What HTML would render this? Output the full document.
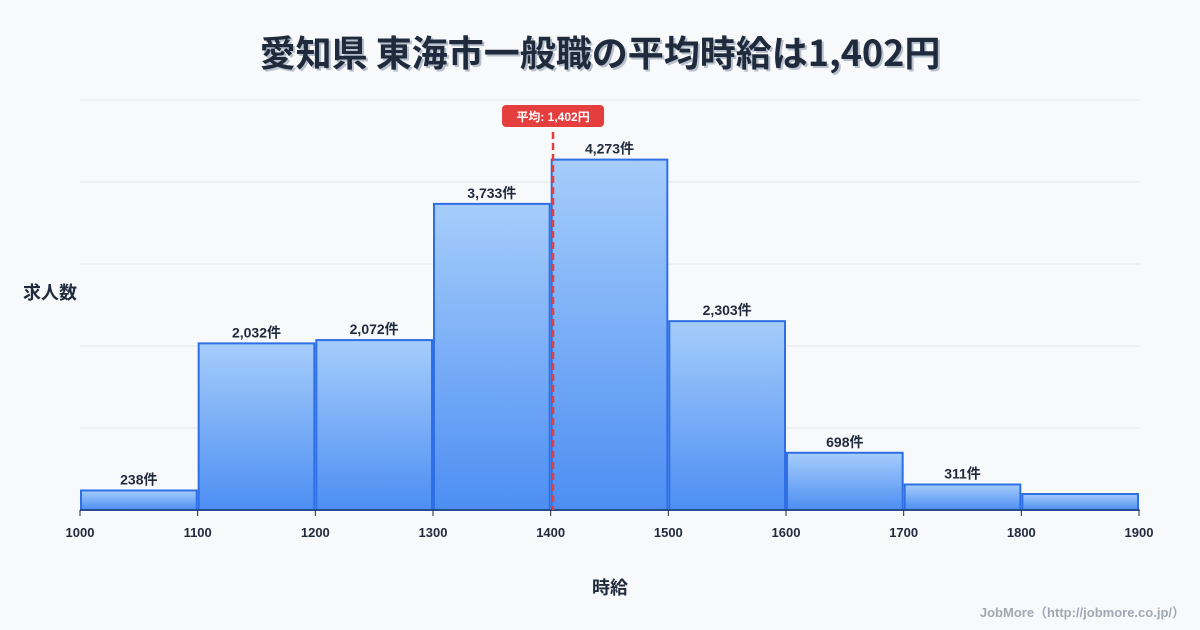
<!DOCTYPE html>
<html><head><meta charset="utf-8"><style>
body{margin:0;background:#f8f9fb;font-family:"Liberation Sans","Noto Sans CJK JP",sans-serif;}
#wrap{position:relative;width:1200px;height:630px;overflow:hidden;}
</style></head><body>
<div id="wrap">
<svg id="svg" width="1200" height="630" xmlns="http://www.w3.org/2000/svg">
<defs><linearGradient id="g" x1="0" y1="0" x2="0" y2="1"><stop offset="0" stop-color="#a6cdfb"/><stop offset="1" stop-color="#4d8ef3"/></linearGradient></defs>
</svg>
</div>
<script>
const binStarts=[1000,1100,1200,1300,1400,1500,1600,1700,1800];
const counts=[238,2032,2072,3733,4273,2303,698,311,195];
const labels=["238件","2,032件","2,072件","3,733件","4,273件","2,303件","698件","311件",""];
const xTicks=[1000,1100,1200,1300,1400,1500,1600,1700,1800,1900];
const yGrid=[1000,2000,3000,4000,5000];
const meanValue=1402;
const NS="http://www.w3.org/2000/svg";
const svg=document.getElementById('svg');
const xs=v=>80+(v-1000)*(1059/900);
const ys=v=>510-v*0.082;
function mk(t,a,txt){const e=document.createElementNS(NS,t);for(const k in a)e.setAttribute(k,a[k]);if(txt!==undefined)e.textContent=txt;svg.appendChild(e);return e;}
const TF='"Noto Sans CJK JP","Liberation Sans",sans-serif';
let ts=mk('text',{x:602,y:68,'text-anchor':'middle','font-size':36,'font-weight':'bold',fill:'#b7c0cc','font-family':TF},'愛知県 東海市一般職の平均時給は1,402円');


let t=mk('text',{x:600,y:66,'text-anchor':'middle','font-size':36,'font-weight':'bold',fill:'#1f2a3c','font-family':TF},'愛知県 東海市一般職の平均時給は1,402円');


yGrid.forEach(v=>{const l=mk('line',{x1:80,x2:1140,y1:ys(v),y2:ys(v),stroke:'#e5e8ec','stroke-width':1});

});
binStarts.forEach((b,i)=>{
const x0=xs(b)+1,x1=xs(b+100)-1,y=ys(counts[i]);
const r=mk('rect',{x:x0,y:y,width:x1-x0,height:510-y,fill:'url(#g)',stroke:'#2f6fe6','stroke-width':2});


if(labels[i]){const tl=mk('text',{x:(x0+x1)/2,y:y-6,'text-anchor':'middle','font-size':14,'font-weight':'bold',fill:'#1f2a3c'},labels[i]);

}
});
const ax=mk('line',{x1:80,x2:1140,y1:510,y2:510,stroke:'#1f2a3c','stroke-width':1});


xTicks.forEach(v=>{const tk=mk('line',{x1:xs(v),x2:xs(v),y1:510,y2:516,stroke:'#1f2a3c'});


const tl=mk('text',{x:xs(v),y:537,'text-anchor':'middle','font-size':13,'font-weight':'bold',fill:'#1f2a3c'},String(v));

});
const mx=xs(meanValue);
const ml=mk('line',{x1:mx,x2:mx,y1:132,y2:510,stroke:'#e53e3e','stroke-width':2.5,'stroke-dasharray':'7,4'});


const mb=mk('rect',{x:mx-51,y:105,width:102,height:22,rx:4,fill:'#e53e3e'});


const mt=mk('text',{x:mx,y:121,'text-anchor':'middle','font-size':12,'font-weight':'bold',fill:'#fff'},'平均: 1,402円');


const yt=mk('text',{x:50,y:299,'text-anchor':'middle','font-size':18,'font-weight':'bold',fill:'#1f2a3c'},'求人数');


const xt=mk('text',{x:610,y:594,'text-anchor':'middle','font-size':18,'font-weight':'bold',fill:'#1f2a3c'},'時給');


const cr=mk('text',{x:1185,y:617,'text-anchor':'end','font-size':13,'font-weight':'bold',fill:'#a0a8b4'},'JobMore（http://jobmore.co.jp/）');


</script>
</body></html>
